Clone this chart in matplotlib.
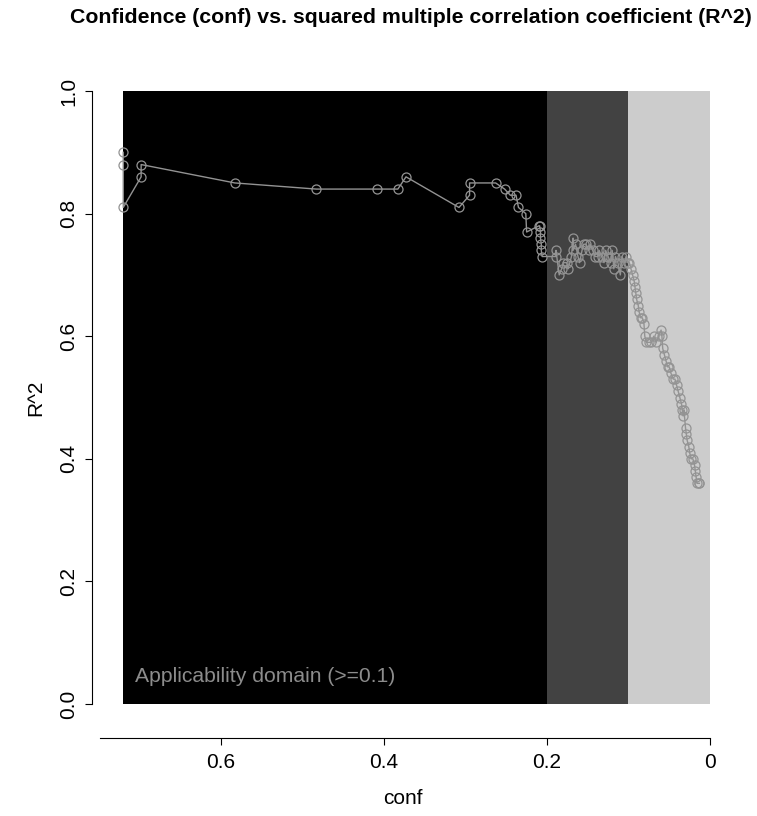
import matplotlib
matplotlib.use("Agg")
import matplotlib.pyplot as plt

plt.rcParams['font.family'] = ['Liberation Sans', 'DejaVu Sans']

# confidence values (sorted, descending) and the matching R^2
conf = [0.720, 0.720, 0.720, 0.698, 0.698, 0.583, 0.483, 0.409, 0.383, 0.373,
        0.308, 0.295, 0.295, 0.263, 0.252, 0.245, 0.238, 0.235, 0.226, 0.225,
        0.210, 0.209, 0.208, 0.208, 0.207, 0.207, 0.206,
        0.189, 0.189, 0.185, 0.182, 0.180, 0.176, 0.174, 0.170, 0.168, 0.168,
        0.165, 0.162, 0.160, 0.157, 0.155, 0.152, 0.149, 0.147, 0.144, 0.141,
        0.138, 0.136, 0.133, 0.130, 0.128, 0.125, 0.122, 0.120, 0.118, 0.116,
        0.113, 0.110, 0.108, 0.105, 0.103, 0.101,
        0.099, 0.097, 0.095, 0.093, 0.092, 0.091, 0.090, 0.088, 0.087, 0.085,
        0.083, 0.081, 0.080, 0.078, 0.075, 0.072, 0.069, 0.066, 0.063, 0.060,
        0.059, 0.058, 0.056, 0.054, 0.052, 0.050, 0.048, 0.045, 0.043, 0.041,
        0.039, 0.037, 0.035, 0.034, 0.033, 0.032, 0.030, 0.029, 0.028, 0.026,
        0.025, 0.023, 0.021, 0.019, 0.018, 0.017, 0.016, 0.014, 0.013]
r2 = [0.90, 0.88, 0.81, 0.86, 0.88, 0.85, 0.84, 0.84, 0.84, 0.86,
      0.81, 0.83, 0.85, 0.85, 0.84, 0.83, 0.83, 0.81, 0.80, 0.77,
      0.78, 0.78, 0.77, 0.76, 0.75, 0.74, 0.73,
      0.73, 0.74, 0.70, 0.71, 0.72, 0.72, 0.71, 0.73, 0.76, 0.74,
      0.75, 0.73, 0.72, 0.74, 0.75, 0.75, 0.74, 0.75, 0.74, 0.73,
      0.73, 0.74, 0.73, 0.72, 0.74, 0.73, 0.72, 0.74, 0.71, 0.73,
      0.72, 0.70, 0.73, 0.72, 0.73, 0.72,
      0.72, 0.71, 0.70, 0.69, 0.68, 0.67, 0.66, 0.65, 0.64, 0.63,
      0.63, 0.62, 0.60, 0.59, 0.59, 0.59, 0.60, 0.59, 0.60, 0.61,
      0.60, 0.58, 0.57, 0.56, 0.55, 0.55, 0.54, 0.53, 0.53, 0.52,
      0.51, 0.50, 0.49, 0.48, 0.47, 0.48, 0.45, 0.44, 0.43, 0.42,
      0.41, 0.40, 0.40, 0.39, 0.38, 0.37, 0.36, 0.36, 0.36]

zone_edges = [0.72, 0.2, 0.1, 0.0]
zone_colors = ['#000000', '#424242', '#cccccc']
x_ticks = [0.6, 0.4, 0.2, 0.0]
x_tick_labels = ['0.6', '0.4', '0.2', '0']
y_ticks = [0.0, 0.2, 0.4, 0.6, 0.8, 1.0]

fig = plt.figure(figsize=(7.57, 8.16), dpi=100)
ax = fig.add_axes([92 / 757, 112 / 816, 621 / 757, 613 / 816])

for i, c in enumerate(zone_colors):
    ax.axvspan(zone_edges[i + 1], zone_edges[i], ymin=0, ymax=1, color=c, lw=0, zorder=0)

ax.plot(conf, r2, color='#939393', lw=1, marker='o', ms=6.5, mfc='none',
        mec='#939393', mew=0.9, zorder=3)

ax.text(0.705, 0.045, 'Applicability domain (>=0.1)', color='#8c8c8c',
        fontsize=15.2, ha='left', va='center')

ax.set_xlim(0.7583, -0.0037)
ax.set_ylim(0, 1)

for s in ['top', 'right']:
    ax.spines[s].set_visible(False)
ax.spines['bottom'].set_position(('outward', 24.5))
ax.spines['bottom'].set_bounds(0.748, 0.0)
ax.spines['left'].set_bounds(0, 1)

ax.set_xticks(x_ticks)
ax.set_xticklabels(x_tick_labels)
ax.set_yticks(y_ticks)
ax.set_yticklabels([f'{v:.1f}' for v in y_ticks], rotation=90, va='center')
ax.tick_params(length=5, width=0.8, labelsize=15, pad=6)
ax.tick_params(axis='y', pad=5)

ax.set_xlabel('conf', fontsize=15, labelpad=12)
ax.set_ylabel('R^2', fontsize=15, labelpad=10)
fig.text(0.543, 0.978, 'Confidence (conf) vs. squared multiple correlation coefficient (R^2)',
         ha='center', va='center', fontsize=15.3, fontweight='bold')

fig.savefig('out.png', dpi=100)
